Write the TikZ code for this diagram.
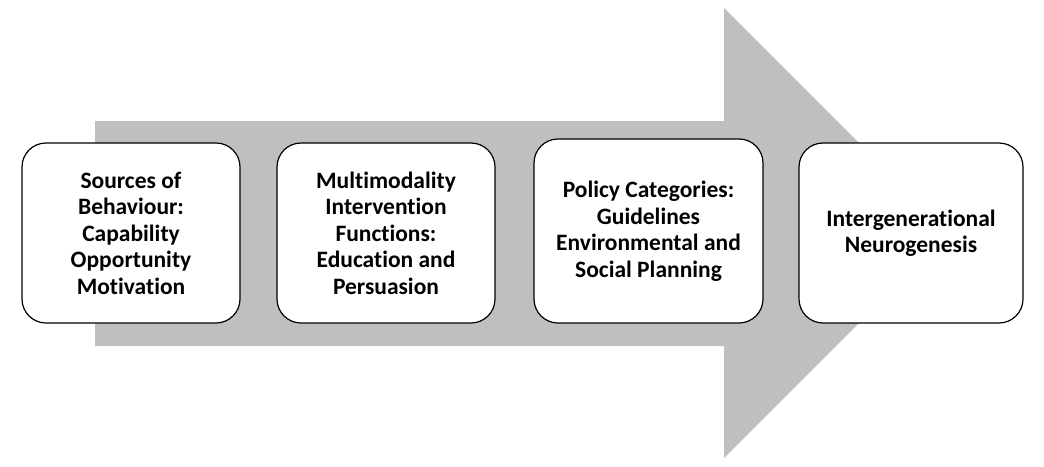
\documentclass[tikz,border=0pt]{standalone}
\usepackage{fontspec}
\setmainfont[Ligatures={NoCommon}]{Carlito}
\begin{document}
\begin{tikzpicture}[x=1pt,y=-1pt,
  stage/.style={draw=black,line width=1.2pt,fill=white,rounded corners=24pt,align=center,font=\bfseries\fontsize{23.5}{26.5}\selectfont,inner sep=0pt}]
\useasboundingbox (0,0) rectangle (1044,466);
\fill[fill={rgb,255:red,191;green,191;blue,191}] (95,121) -- (724,121) -- (724,8) -- (949,233) -- (724,458) -- (724,346) -- (95,346) -- cycle;
\node[stage,minimum width=218pt,minimum height=180pt] (a) at (131,233) {Sources of\\Behaviour:\\Capability\\Opportunity\\Motivation};
\node[stage,minimum width=218pt,minimum height=180pt] (b) at (386,233) {Multimodality\\Intervention\\Functions:\\Education and\\Persuasion};
\node[stage,minimum width=229pt,minimum height=184pt] (c) at (648.5,231) {Policy Categories:\\Guidelines\\Environmental and\\Social Planning};
\node[stage,minimum width=224pt,minimum height=180pt] (d) at (911,233) {Intergenerational\\Neurogenesis};
\end{tikzpicture}
\end{document}
